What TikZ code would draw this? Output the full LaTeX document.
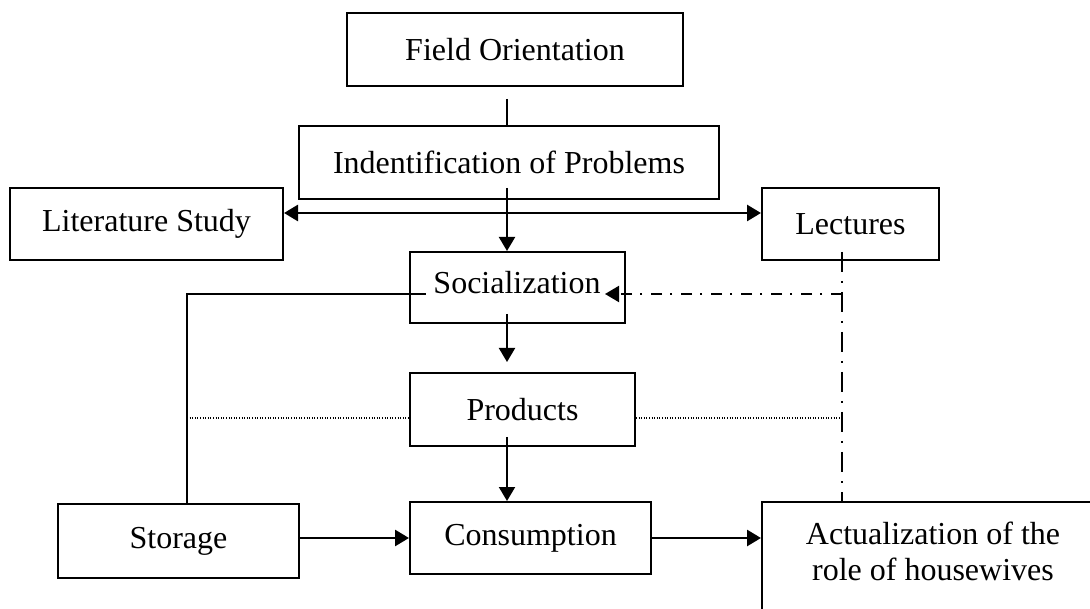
\documentclass[tikz,border=0pt]{standalone}
\usepackage{fontspec}
\setmainfont{Liberation Serif}
\usetikzlibrary{arrows.meta}
\begin{document}
\begin{tikzpicture}[x=1pt,y=-1pt,
  box/.style={draw, line width=2pt, inner sep=0pt, font=\fontsize{32}{36}\selectfont},
  conn/.style={line width=1.8pt},
  tip/.style={-{Triangle[length=14pt,width=16pt]}},
  arr/.style={line width=2pt, tip},
  thickarr/.style={line width=2.8pt, tip},
  dblarr/.style={line width=2.8pt, {Triangle[length=14pt,width=16pt]}-{Triangle[length=14pt,width=16pt]}},
  vdashdot/.style={line width=2pt, dash pattern=on 20pt off 9pt on 2pt off 9pt},
  hdashdot/.style={line width=2pt, dash pattern=on 11pt off 9pt on 2pt off 8pt},
  dotline/.style={line width=1.3pt, dash pattern=on 1pt off 1.6pt},
  txt/.style={font=\fontsize{32}{36}\selectfont, align=center, inner sep=0pt}
]
\useasboundingbox (0,0) rectangle (1090,609);
\clip (0,0) rectangle (1090,609);
\fill[white] (0,0) rectangle (1090,609);

\node[box, minimum width=336pt, minimum height=73pt] (fo) at (515,49.5) {Field Orientation};
\node[box, minimum width=420pt, minimum height=73pt] (ip) at (509,162.5) {Indentification of Problems};
\node[box, minimum width=273pt, minimum height=72pt] (lit) at (146.5,224) {Literature Study};
\node[box, minimum width=177pt, minimum height=72pt] (lec) at (850.5,224) {Lectures};
\node[box, minimum width=215pt, minimum height=71pt] (soc) at (517.5,287.5) {};
\node[txt] (soctext) at (517,283) {Socialization};
\node[box, minimum width=225pt, minimum height=73pt] (prod) at (522.5,409.5) {Products};
\node[box, minimum width=241pt, minimum height=72pt] (cons) at (530.5,538) {Consumption};
\node[box, minimum width=241pt, minimum height=74pt] (stor) at (178.5,541) {Storage};
\node[box, minimum width=346pt, minimum height=156pt] (act) at (935,580) {};
\node[txt] (acttext) at (933,551) {Actualization of the\\role of housewives};

\coordinate (foline) at (507,99);
\coordinate (ipdown) at (507,188);
\coordinate (sj) at (187,294);
\coordinate (dd) at (842,294);

\draw[conn] (foline) -- (foline |- ip.north);
\draw[arr] (ipdown) -- (ipdown |- soc.north);
\draw[dblarr] ([yshift=11pt]lit.east) -- ([yshift=11pt]lec.west);
\draw[conn] (stor.north -| sj) -- (sj) -- ([xshift=17pt]soc.west |- sj);
\draw[vdashdot] ([yshift=9pt]lec.south -| dd) -- (act.north -| dd);
\draw[hdashdot, tip] (dd) -- ([xshift=-21pt]soc.east |- dd);
\draw[arr] ([yshift=10pt]soc.south -| ipdown) -- ([yshift=10pt]prod.north -| ipdown);
\draw[arr] ([yshift=10pt]prod.south -| ipdown) -- (ipdown |- cons.north);
\draw[dotline] (sj |- 0,418) -- (prod.west |- 0,418);
\draw[dotline] (prod.east |- 0,418) -- (dd |- 0,418);
\draw[thickarr] (stor.east |- cons.west) -- (cons.west);
\draw[thickarr] (cons.east) -- (act.west |- cons.east);
\end{tikzpicture}
\end{document}
